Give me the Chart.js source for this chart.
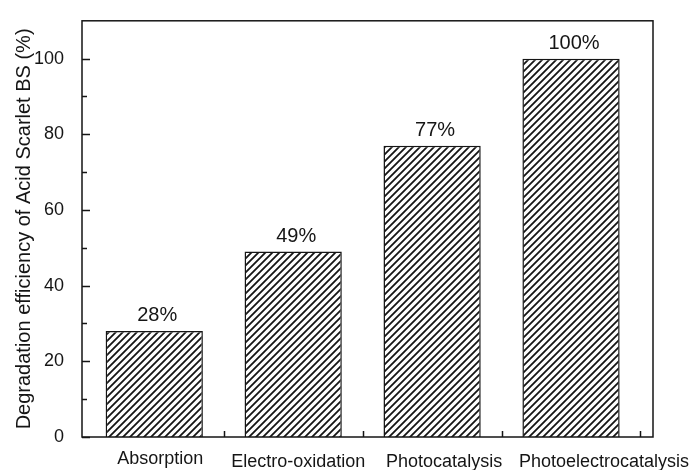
<!DOCTYPE html>
<html>
<head>
<meta charset="utf-8">
<script src="https://cdn.jsdelivr.net/npm/chart.js@4/dist/chart.umd.min.js"></script>
<style>
  html, body { margin: 0; padding: 0; background: #fff; }
  #wrap { width: 697px; height: 470px; }
</style>
</head>
<body>
<div id="wrap"><canvas id="myChart"></canvas></div>
<script>
// degradation results for each treatment
const categories = ['Absorption', 'Electro-oxidation', 'Photocatalysis', 'Photoelectrocatalysis'];
const efficiency = [28, 49, 77, 100];
const yTicks = [0, 20, 40, 60, 80, 100];

const FONT = "'Liberation Sans', Arial, Helvetica, sans-serif";
const INK = '#151515';

// category names sit a little to the right of their bars, more so further along
const nameNudge = [6, 5, 12, 33];

// diagonal hatch fill
function hatch() {
  const s = 7;
  const c = document.createElement('canvas');
  c.width = s; c.height = s;
  const g = c.getContext('2d');
  g.fillStyle = '#fff';
  g.fillRect(0, 0, s, s);
  g.strokeStyle = INK;
  g.lineWidth = 1.8;
  g.beginPath();
  g.moveTo(-1, s + 1); g.lineTo(s + 1, -1);
  g.moveTo(-1, 1); g.lineTo(1, -1);
  g.moveTo(s - 1, s + 1); g.lineTo(s + 1, s - 1);
  g.stroke();
  return g.createPattern(c, 'repeat');
}

// frame, inward ticks, value labels and category names
const decorations = {
  id: 'decorations',
  afterDraw(chart) {
    const ctx = chart.ctx;
    const a = chart.chartArea;
    const x = chart.scales.x, y = chart.scales.y;
    ctx.save();
    ctx.strokeStyle = INK;
    ctx.lineWidth = 1.5;
    ctx.strokeRect(a.left, a.top, a.right - a.left, a.bottom - a.top);

    ctx.beginPath();
    for (let v = 0; v <= 100; v += 10) {
      const py = Math.round(y.getPixelForValue(v)) + 0.5;
      const len = v % 20 === 0 ? 8 : 5;
      ctx.moveTo(a.left, py); ctx.lineTo(a.left + len, py);
    }
    for (let i = 0; i < categories.length; i++) {
      const px = Math.round(x.getPixelForValue(i + 0.5)) + 0.5;
      ctx.moveTo(px, a.bottom); ctx.lineTo(px, a.bottom - 6);
    }
    ctx.stroke();

    const meta = chart.getDatasetMeta(0);
    ctx.fillStyle = INK;
    ctx.font = '20px ' + FONT;
    ctx.textAlign = 'center';
    ctx.textBaseline = 'alphabetic';
    meta.data.forEach((bar, i) => {
      ctx.fillText(efficiency[i] + '%', bar.x + 3, bar.y - 10);
    });

    ctx.font = '18px ' + FONT;
    categories.forEach((name, i) => {
      const px = x.getPixelForValue(i) + nameNudge[i];
      ctx.fillText(name, px, i === 0 ? 464 : 467);
    });
    ctx.restore();
  }
};

const data = {
  datasets: [{
    data: efficiency.map((v, i) => ({ x: i, y: v })),
    backgroundColor: hatch(),
    borderColor: INK,
    borderWidth: 1.5,
    barPercentage: 0.7,
    categoryPercentage: 1.0
  }]
};

const config = {
  type: 'bar',
  data: data,
  options: {
    responsive: false,
    animation: false,
    layout: { padding: { top: 19, right: 44, left: 0, bottom: 0 } },
    plugins: {
      legend: { display: false },
      tooltip: { enabled: false }
    },
    scales: {
      x: {
        type: 'linear',
        min: -0.52,
        max: 3.59,
        offset: false,
        border: { display: false },
        grid: { display: false },
        afterBuildTicks(s) { s.ticks = categories.map((c, i) => ({ value: i })); },
        ticks: { display: false },
        afterFit(s) { s.height = 33; }
      },
      y: {
        min: 0,
        max: 110,
        border: { display: false },
        grid: { display: false },
        afterBuildTicks(s) { s.ticks = yTicks.map(v => ({ value: v })); },
        ticks: {
          color: INK,
          padding: 10,
          font: { family: FONT, size: 18 }
        },
        title: {
          display: true,
          text: 'Degradation efficiency of Acid Scarlet BS (%)',
          color: INK,
          font: { family: FONT, size: 20 },
          padding: { top: 12, bottom: 2 }
        },
        afterFit(s) { s.width = 82; }
      }
    }
  },
  plugins: [decorations]
};

const canvas = document.getElementById('myChart');
canvas.width = 697;
canvas.height = 470;
const myChart = new Chart(canvas, config);
</script>
</body>
</html>
